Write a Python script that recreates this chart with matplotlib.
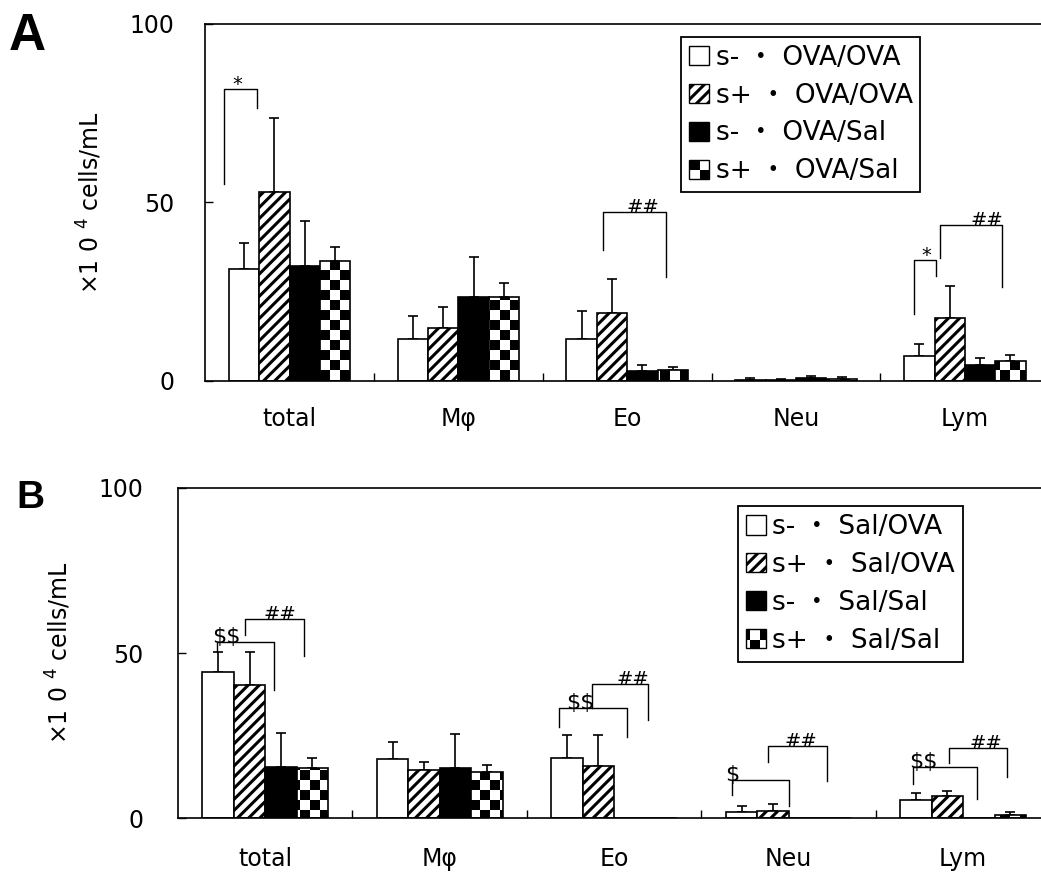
import warnings
import numpy as np
import matplotlib
matplotlib.use('Agg')
from matplotlib import pyplot as plt
from matplotlib import hatch as mhatch
from matplotlib.path import Path
from matplotlib.patches import Patch

warnings.filterwarnings('ignore')

# ---- data ----
cats = ['total', 'M\u03c6', 'Eo', 'Neu', 'Lym']

labels_a = ['s- \u30fb OVA/OVA', 's+ \u30fb OVA/OVA', 's- \u30fb OVA/Sal', 's+ \u30fb OVA/Sal']
mean_a = [[31.4, 11.7, 11.8, 0.3, 7.0],
          [53.0, 14.9, 19.0, 0.3, 17.7],
          [32.2, 23.6, 2.8, 0.8, 4.5],
          [33.6, 23.6, 3.1, 0.5, 5.7]]
sd_a = [[7.2, 6.6, 7.8, 0.5, 3.3],
        [20.6, 5.8, 9.5, 0.3, 8.9],
        [12.6, 11.1, 1.7, 0.6, 1.9],
        [3.9, 3.9, 0.9, 0.6, 1.7]]

labels_b = ['s- \u30fb Sal/OVA', 's+ \u30fb Sal/OVA', 's- \u30fb Sal/Sal', 's+ \u30fb Sal/Sal']
mean_b = [[44.2, 17.9, 18.1, 1.8, 5.5],
          [40.3, 14.5, 15.8, 2.1, 6.7],
          [15.5, 15.2, 0.0, 0.0, 0.0],
          [15.2, 14.0, 0.0, 0.0, 0.9]]
sd_b = [[6.1, 5.1, 7.0, 1.8, 2.1],
        [10.0, 2.5, 9.3, 2.1, 1.5],
        [10.3, 10.3, 0.0, 0.0, 0.0],
        [3.0, 2.0, 0.0, 0.0, 0.9]]

# significance brackets:
# (category, left x offset, right x offset, top, left foot, right foot, text, text x offset)
sig_a = [(0, -0.385, -0.19, 81.8, 55.2, 76.5, '*', -0.31),
         (2, -0.146, 0.228, 47.3, 36.7, 29.1, '##', 0.09),
         (4, -0.30, -0.17, 33.9, 18.8, 29.4, '*', -0.227),
         (4, -0.15, 0.22, 43.7, 34.5, 26.3, '##', 0.128)]
sig_b = [(0, -0.275, 0.052, 53.3, 50.3, 38.8, '$$', -0.22),
         (0, -0.115, 0.223, 60.3, 55.5, 49.1, '##', 0.086),
         (2, -0.315, 0.074, 33.3, 27.6, 24.5, '$$', -0.195),
         (2, -0.13, 0.195, 40.6, 33.3, 29.7, '##', 0.109),
         (3, -0.325, 0.003, 11.5, 7.0, 3.6, '$', -0.324),
         (3, -0.118, 0.22, 21.8, 17.0, 11.2, '##', 0.072),
         (4, -0.29, 0.08, 15.5, 10.3, 5.8, '$$', -0.229),
         (4, -0.08, 0.25, 21.2, 16.7, 12.4, '##', 0.132)]

# ---- custom hatches: checkerboard ('c') and wide stripes ('d') ----
HLW = 2.2  # hatch line width in points


class CheckerHatch(mhatch.HatchPatternBase):
    def __init__(self, hatch, density):
        self.n = hatch.count('c') * 10
        self.num_vertices = (self.n * self.n // 2) * 5 if self.n else 0
        self.filled = True

    def set_vertices_and_codes(self, vertices, codes):
        n = self.n
        s = 1.0 / n
        m = HLW / 72.0 / 2.0  # shrink so the stroke doesn't enlarge squares
        k = 0
        for i in range(n):
            for j in range(n):
                if (i + j) % 2 == 0:
                    x0, y0 = i * s + m, j * s + m
                    x1, y1 = (i + 1) * s - m, (j + 1) * s - m
                    vertices[k:k + 5] = [(x0, y0), (x1, y0), (x1, y1), (x0, y1), (x0, y0)]
                    codes[k] = Path.MOVETO
                    codes[k + 1:k + 4] = Path.LINETO
                    codes[k + 4] = Path.CLOSEPOLY
                    k += 5


class StripeHatch(mhatch.HatchPatternBase):
    def __init__(self, hatch, density):
        self.num_lines = hatch.count('d') * 18
        self.num_vertices = (self.num_lines + 1) * 2 if self.num_lines else 0

    def set_vertices_and_codes(self, vertices, codes):
        steps = np.linspace(-0.5, 0.5, self.num_lines + 1)
        vertices[0::2, 0] = 0.0 + steps
        vertices[0::2, 1] = 0.0 - steps
        vertices[1::2, 0] = 1.0 + steps
        vertices[1::2, 1] = 1.0 - steps
        codes[0::2] = Path.MOVETO
        codes[1::2] = Path.LINETO


mhatch._hatch_types.append(CheckerHatch)
mhatch._hatch_types.append(StripeHatch)

plt.rcParams['font.family'] = ['DejaVu Sans', 'Noto Sans CJK JP']
plt.rcParams['hatch.linewidth'] = HLW
plt.rcParams['hatch.color'] = 'black'
plt.rcParams['mathtext.fontset'] = 'dejavusans'

styles = [dict(color='white', hatch=None),
          dict(color='white', hatch='d'),
          dict(color='black', hatch=None),
          dict(color='white', hatch='c')]

fig = plt.figure(figsize=(10.41, 8.75), dpi=100)
ax_a = fig.add_axes([0.197, 0.5646, 0.811, 0.408])
ax_b = fig.add_axes([0.171, 0.0651, 0.838, 0.3772])

width = 0.18
x = np.arange(len(cats))


def draw_panel(ax, means, sds, labels, sigs, tickpad, xpad, leg_anchor):
    for k in range(4):
        pos = x + (k - 1.5) * width
        st = styles[k]
        ax.bar(pos, means[k], width, color=st['color'], hatch=st['hatch'],
               edgecolor='black', linewidth=1.2, zorder=2)
        m = np.array(means[k])
        e = np.array(sds[k])
        keep = e > 0
        ax.errorbar(pos[keep], m[keep], yerr=[np.zeros(keep.sum()), e[keep]],
                    fmt='none', ecolor='black', elinewidth=1.2, capsize=3.3,
                    capthick=1.2, zorder=1)
    for c, xl, xr, top, fl, fr, txt, tx in sigs:
        ax.plot([c + xl, c + xl, c + xr, c + xr], [fl, top, top, fr],
                color='black', lw=1.0, zorder=3)
        fs = 16 if '$' in txt else 14
        ax.text(c + tx, top - 1.5, txt, ha='center', va='bottom',
                fontsize=fs, family='DejaVu Sans', zorder=3, parse_math=False)
    ax.set_xlim(-0.5, 4.5)
    ax.set_ylim(0, 100)
    ax.set_yticks([0, 50, 100])
    ax.set_xticks(x)
    ax.set_xticklabels(cats)
    ax.set_xticks(x[:-1] + 0.5, minor=True)
    ax.tick_params(axis='x', which='major', length=0, pad=xpad, labelsize=17)
    ax.tick_params(axis='x', which='minor', direction='in', length=5.5, width=1.0)
    ax.tick_params(axis='y', direction='in', length=6, width=1.0, pad=tickpad, labelsize=17)
    ax.spines['right'].set_visible(False)
    for s in ['left', 'top', 'bottom']:
        ax.spines[s].set_linewidth(1.2)
    ax.set_ylabel('\u00d71 0 $^{4}$ cells/mL', fontsize=17)
    ax.yaxis.set_label_coords(-0.12, 0.5)
    handles = [Patch(facecolor=styles[k]['color'], hatch=styles[k]['hatch'],
                     edgecolor='black', linewidth=1.0) for k in range(4)]
    leg = ax.legend(handles, labels, loc='upper left', bbox_to_anchor=leg_anchor,
                    borderaxespad=0, fontsize=19, frameon=True, fancybox=False,
                    framealpha=1, handlelength=0.75, handleheight=0.75,
                    handletextpad=0.25, labelspacing=0.45, borderpad=0.3)
    leg.get_frame().set_edgecolor('black')
    leg.get_frame().set_linewidth(1.3)


draw_panel(ax_a, mean_a, sd_a, labels_a, sig_a, 22, 19, (0.564, 0.964))
draw_panel(ax_b, mean_b, sd_b, labels_b, sig_b, 25, 21, (0.642, 0.945))

fig.text(0.008, 0.986, 'A', fontsize=37, fontweight='bold', family='Liberation Sans',
         ha='left', va='top')
fig.text(0.016, 0.452, 'B', fontsize=28, fontweight='bold', family='Liberation Sans',
         ha='left', va='top')

fig.savefig('out.png', dpi=100)
